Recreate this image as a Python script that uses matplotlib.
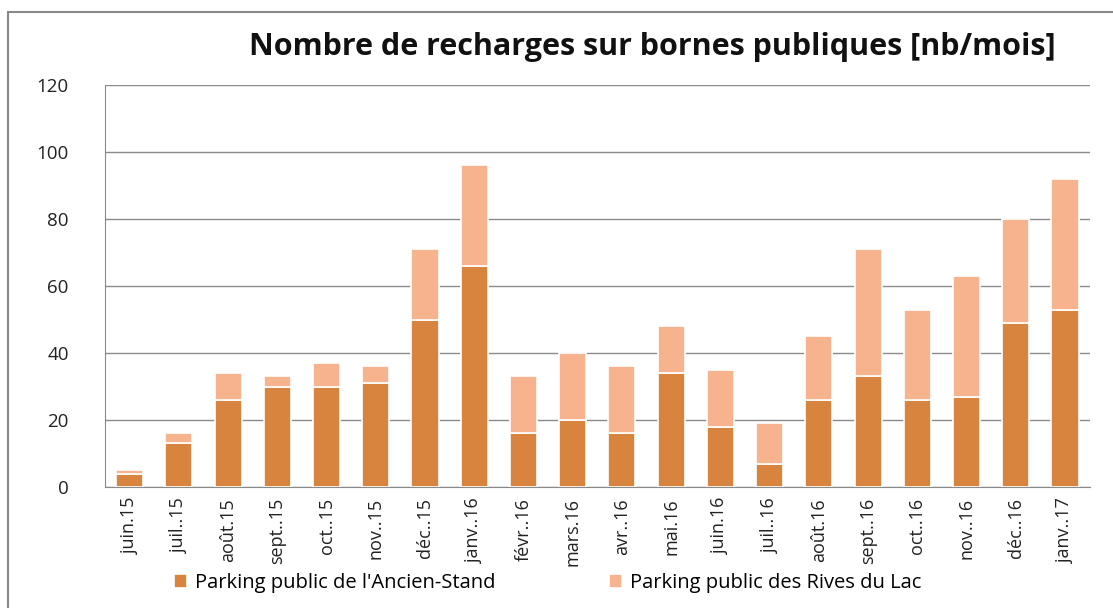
import matplotlib
matplotlib.use("Agg")
import matplotlib.pyplot as plt
import numpy as np
from matplotlib.patches import Rectangle

months = ["juin.15", "juil..15", "août.15", "sept..15", "oct..15", "nov..15", "déc..15",
          "janv..16", "févr..16", "mars.16", "avr..16", "mai.16", "juin.16", "juil..16",
          "août.16", "sept..16", "oct..16", "nov..16", "déc..16", "janv..17"]
ancien_stand = [4, 13, 26, 30, 30, 31, 50, 66, 16, 20, 16, 34, 18, 7, 26, 33, 26, 27, 49, 53]
rives_du_lac = [1, 3, 8, 3, 7, 5, 21, 30, 17, 20, 20, 14, 17, 12, 19, 38, 27, 36, 31, 39]
yticks = [0, 20, 40, 60, 80, 100, 120]

plt.rcParams['font.family'] = ['Open Sans', 'DejaVu Sans']

fig = plt.figure(figsize=(11.13, 6.08), dpi=100)
ax = fig.add_axes([0.0943, 0.199, 0.8847, 0.661])

x = np.arange(len(months))
w = 0.55
dark = "#D9843E"
light = "#F6B38E"
b1 = ax.bar(x, ancien_stand, width=w, color=dark, edgecolor="white", linewidth=1.2,
            label="Parking public de l'Ancien-Stand", zorder=3)
b2 = ax.bar(x, rives_du_lac, width=w, bottom=ancien_stand, color=light, edgecolor="white",
            linewidth=1.2, label="Parking public des Rives du Lac", zorder=3)

ax.set_xlim(-0.5, len(months) - 0.5)
ax.set_ylim(0, 120)
ax.set_yticks(yticks)
ax.set_yticklabels([str(v) for v in yticks], fontsize=13.5, color="#222222")
ax.set_xticks(x)
ax.set_xticklabels(months, rotation=90, fontsize=13, color="#222222")
ax.tick_params(axis="x", length=0, pad=8)
ax.tick_params(axis="y", length=0, pad=26)
ax.yaxis.grid(True, color="#8a8a8a", linewidth=1.0, zorder=0)
ax.set_axisbelow(True)
for s in ["top", "right"]:
    ax.spines[s].set_visible(False)
ax.spines["left"].set_color("#8a8a8a")
ax.spines["bottom"].set_color("#8a8a8a")

fig.text(0.586, 0.923, "Nombre de recharges sur bornes publiques [nb/mois]", ha="center",
         va="center", fontsize=22, fontweight="bold", color="#111111")

fig.legend(handles=[b1, b2], loc="center", bbox_to_anchor=(0.492, 0.041), ncol=2,
           frameon=False, fontsize=14.5, handlelength=0.65, handleheight=0.65,
           columnspacing=5.6, handletextpad=0.4)

fig.patches.append(Rectangle((0.007, -0.01), 1.2, 0.99, transform=fig.transFigure,
                             fill=False, edgecolor="#888888", linewidth=1.5))

fig.savefig("out.png", dpi=100)
